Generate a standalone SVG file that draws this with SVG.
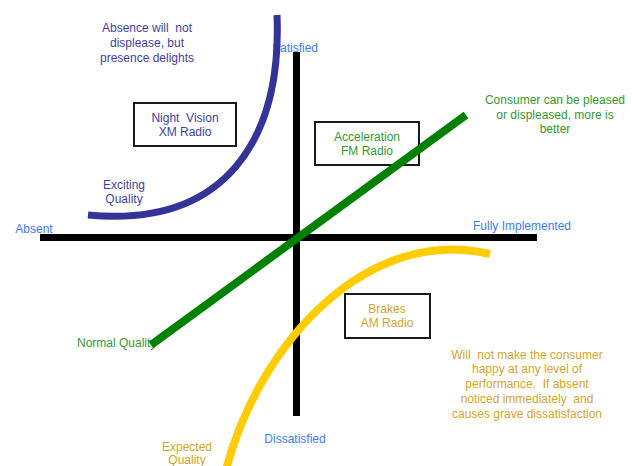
<svg xmlns="http://www.w3.org/2000/svg" width="632" height="466" viewBox="0 0 632 466">
<style>
text{font-family:"Liberation Sans",Arial,sans-serif;font-size:12px;text-anchor:middle;white-space:pre}
.ax{fill:#3C7DFF}
.bl{fill:#3F3F9F}
.gr{fill:#339933}
.go{fill:#D4A52A}
.box{fill:#fff;stroke:#1a1a1a;stroke-width:2}
</style>
<rect width="632" height="466" fill="#fff"/>
<g id="axis-labels">
<text class="ax" x="295" y="52">Satisfied</text>
<text class="ax" x="295" y="443">Dissatisfied</text>
<text class="ax" x="34" y="233">Absent</text>
<text class="ax" x="522" y="230">Fully Implemented</text>
</g>
<g id="curve-labels">
<text class="bl" x="147" y="32" xml:space="preserve">Absence will  not</text>
<text class="bl" x="147" y="47">displease, but</text>
<text class="bl" x="147" y="62">presence delights</text>
<text class="bl" x="124" y="189">Exciting</text>
<text class="bl" x="124" y="203">Quality</text>
<text class="gr" x="555" y="104">Consumer can be pleased</text>
<text class="gr" x="555" y="119">or displeased, more is</text>
<text class="gr" x="555" y="133">better</text>
<text class="gr" x="77" y="347" style="text-anchor:start">Normal Quality</text>
<text class="go" x="527" y="359" xml:space="preserve">Will  not make the consumer</text>
<text class="go" x="527" y="373">happy at any level of</text>
<text class="go" x="527" y="388" xml:space="preserve">performance.  If absent</text>
<text class="go" x="527" y="403" xml:space="preserve">noticed immediately  and</text>
<text class="go" x="527" y="418">causes grave dissatisfaction</text>
<text class="go" x="187" y="451">Expected</text>
<text class="go" x="187" y="464">Quality</text>
</g>
<g id="box-night">
<rect class="box" x="134" y="103" width="102" height="43"/>
<text class="bl" x="185" y="122" xml:space="preserve">Night  Vision</text>
<text class="bl" x="185" y="136">XM Radio</text>
</g>
<g id="box-accel">
<rect class="box" x="315" y="122" width="104" height="43"/>
<text class="gr" x="367" y="141">Acceleration</text>
<text class="gr" x="367" y="155">FM Radio</text>
</g>
<g id="box-brakes">
<rect class="box" x="345" y="294" width="85" height="44"/>
<text class="go" x="387" y="313">Brakes</text>
<text class="go" x="387" y="327">AM Radio</text>
</g>
<g id="connectors" fill="none">
<line x1="40" y1="237.5" x2="537" y2="237.5" stroke="#000" stroke-width="7"/>
<line x1="296.5" y1="52" x2="296.5" y2="416" stroke="#000" stroke-width="7"/>
<path d="M277 15 C282 140 225 228 88 215" stroke="#333399" stroke-width="7"/>
<line x1="151" y1="345" x2="466" y2="115" stroke="#008000" stroke-width="8"/>
<path d="M226 470 C260 340 370 225 490 254" stroke="#FFCC00" stroke-width="8"/>
</g>
</svg>
